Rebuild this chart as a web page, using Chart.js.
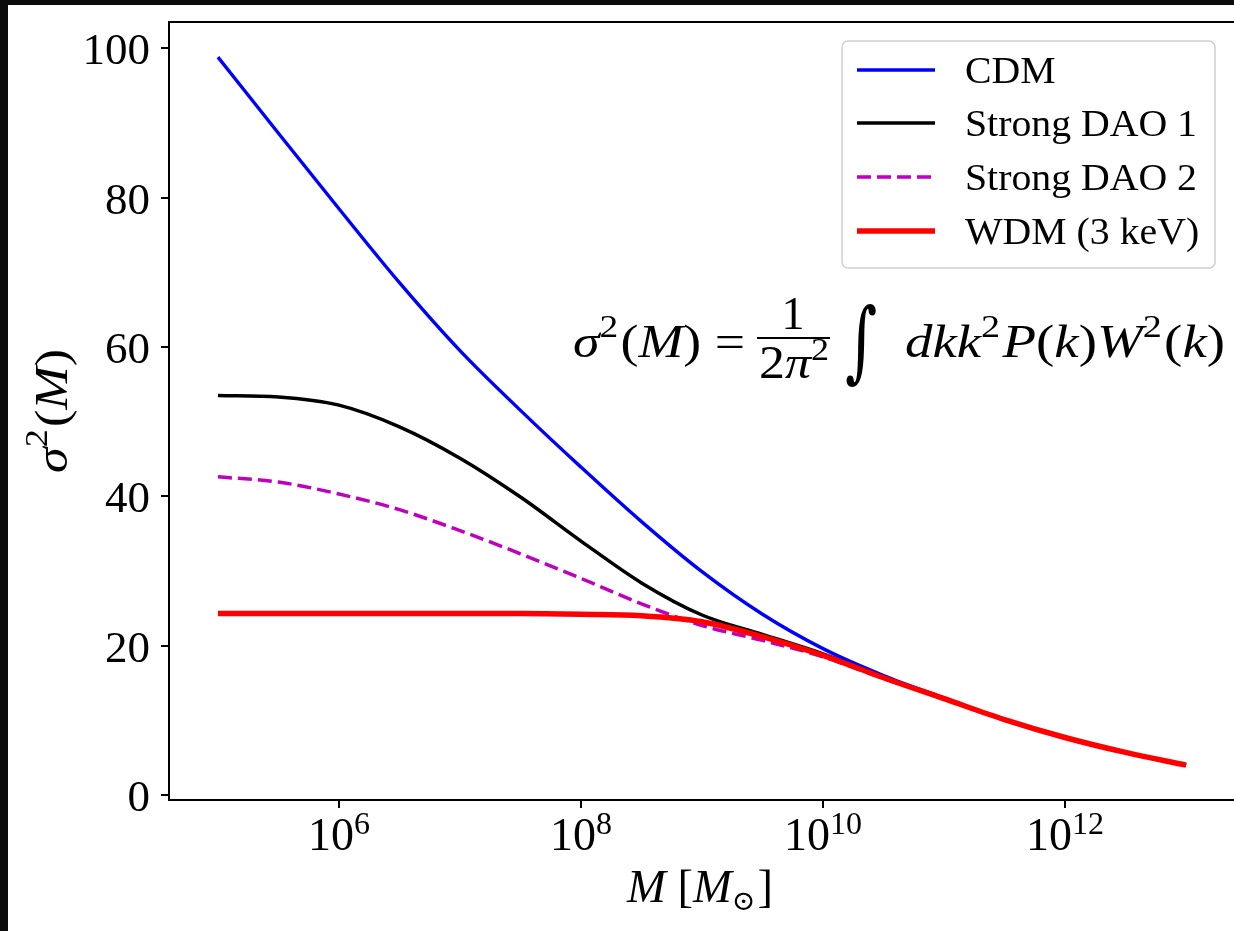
<!DOCTYPE html>
<html>
<head>
<meta charset="utf-8">
<title>sigma^2(M)</title>
<script src="https://cdn.jsdelivr.net/npm/chart.js@4.4.1/dist/chart.umd.min.js"></script>
<style>
html, body { margin: 0; padding: 0; background: #0b0b0b; overflow: hidden; width: 1234px; height: 931px; }
#frame { position: absolute; left: 8px; top: 5px; width: 1240px; height: 926px; background: #fff; }
canvas { display: block; }
</style>
</head>
<body>
<div id="frame"><canvas id="sigmaChart" width="1240" height="926"></canvas></div>
<script>
// halo mass grid (half-decade steps) and sigma^2
const massValues = [1e5, 3.162e5, 1e6, 3.162e6, 1e7, 3.162e7, 1e8, 3.162e8, 1e9,
                    3.162e9, 1e10, 3.162e10, 1e11, 3.162e11, 1e12, 3.162e12, 1e13];
const cdmValues = [98.8, 88.6, 78.5, 68.6, 59.5, 51.5, 43.9, 36.6, 29.9,
                   24.2, 19.6, 16.0, 13.0, 10.1, 7.7, 5.7, 4.0];
const strongDao1Values = [53.5, 53.3, 52.2, 49.3, 45.1, 39.9, 34.0, 28.4, 24.1,
                          21.5, 18.9, 15.8, 12.9, 10.1, 7.7, 5.7, 4.0];
const strongDao2Values = [42.6, 41.9, 40.3, 38.2, 35.4, 32.3, 29.0, 25.6, 22.7,
                          20.7, 18.5, 15.6, 12.9, 10.1, 7.7, 5.7, 4.0];
const wdmValues = [24.3, 24.3, 24.3, 24.3, 24.3, 24.3, 24.2, 24.0, 23.2,
                   21.2, 18.7, 15.7, 12.9, 10.1, 7.7, 5.7, 4.0];

const seriesLabels = ['CDM', 'Strong DAO 1', 'Strong DAO 2', 'WDM (3 keV)'];
const xTickValues = [1e6, 1e8, 1e10, 1e12];
const xTickExponents = ['6', '8', '10', '12'];
const yTickValues = [0, 20, 40, 60, 80, 100];

const SERIF = '"Liberation Serif", "DejaVu Serif", serif';

function font(size, italic, family) {
    return (italic ? 'italic ' : '') + size + 'px ' + (family || SERIF);
}

// a "run" is a piece of text with its own size / italic / vertical shift
function runsWidth(ctx, runs) {
    let w = 0;
    runs.forEach(r => {
        ctx.font = font(r.size || 46, r.it);
        w += ctx.measureText(r.t).width + (r.gap || 0);
    });
    return w;
}

function drawRuns(ctx, runs, x, y) {
    runs.forEach(r => {
        ctx.font = font(r.size || 46, r.it);
        ctx.fillText(r.t, x, y + (r.dy || 0));
        x += ctx.measureText(r.t).width + (r.gap || 0);
    });
}

// draw runs squeezed / stretched horizontally to span x0..x1
function drawFit(ctx, runs, x0, x1, baseline) {
    const w = runsWidth(ctx, runs);
    ctx.save();
    ctx.translate(x0, baseline);
    ctx.scale((x1 - x0) / w, 1);
    drawRuns(ctx, runs, 0, 0);
    ctx.restore();
}

const textPlugin = {
    id: 'textPlugin',
    afterDraw(chart) {
        const ctx = chart.ctx;
        const area = chart.chartArea;
        ctx.save();
        ctx.fillStyle = '#000';
        ctx.textAlign = 'left';
        ctx.textBaseline = 'alphabetic';

        // top spine
        ctx.strokeStyle = '#000';
        ctx.lineWidth = 2;
        ctx.beginPath();
        ctx.moveTo(area.left - 1, area.top);
        ctx.lineTo(area.right + 1, area.top);
        ctx.stroke();

        // y tick labels
        const ys = chart.scales.y;
        ctx.font = font(45, false);
        ctx.textAlign = 'right';
        yTickValues.forEach(v => {
            ctx.fillText(String(v), area.left - 19, ys.getPixelForValue(v) + 16);
        });
        ctx.textAlign = 'left';

        // x tick labels 10^n
        const xs = chart.scales.x;
        xTickValues.forEach((v, i) => {
            const px = xs.getPixelForValue(v);
            const runs = [{t: '10', size: 46}, {t: xTickExponents[i], size: 32, dy: -16}];
            const w = runsWidth(ctx, runs);
            drawRuns(ctx, runs, px - w / 2, 845);
        });

        // axis titles
        drawFit(ctx, [{t: 'M', it: true}, {t: ' ['}, {t: 'M', it: true},
                      {t: '\u2299', size: 28, dy: 8, gap: 2}, {t: ']'}], 619, 765, 897);

        ctx.save();
        ctx.translate(59, 406);
        ctx.rotate(-Math.PI / 2);
        drawFit(ctx, [{t: '\u03c3', it: true}, {t: '2', size: 32, dy: -20, gap: 2},
                      {t: '('}, {t: 'M', it: true}, {t: ')'}], -62, 62, 0);
        ctx.restore();

        // formula
        drawFit(ctx, [{t: '\u03c3', it: true}, {t: '2', size: 32, dy: -20, gap: 2},
                      {t: '('}, {t: 'M', it: true}, {t: ')'}, {t: ' ='}], 565, 737, 352);
        ctx.font = font(46, false);
        ctx.textAlign = 'center';
        ctx.fillText('1', 785, 324);
        ctx.textAlign = 'left';
        ctx.lineWidth = 2;
        ctx.beginPath();
        ctx.moveTo(749, 333);
        ctx.lineTo(822, 333);
        ctx.stroke();
        drawFit(ctx, [{t: '2'}, {t: '\u03c0', it: true}, {t: '2', size: 32, dy: -18}], 751, 821, 373);

        // integral sign fitted to its box
        ctx.font = font(80, false, '"DejaVu Serif"');
        const m = ctx.measureText('\u222b');
        const gw = m.actualBoundingBoxLeft + m.actualBoundingBoxRight;
        const gh = m.actualBoundingBoxAscent + m.actualBoundingBoxDescent;
        ctx.save();
        ctx.translate(838, 299);
        ctx.scale(30 / gw, 84 / gh);
        ctx.fillText('\u222b', m.actualBoundingBoxLeft, m.actualBoundingBoxAscent);
        ctx.restore();

        drawFit(ctx, [{t: 'dkk', it: true}, {t: '2', size: 32, dy: -20, gap: 2},
                      {t: 'P', it: true}, {t: '('}, {t: 'k', it: true}, {t: ')'},
                      {t: 'W', it: true}, {t: '2', size: 32, dy: -20, gap: 2},
                      {t: '('}, {t: 'k', it: true}, {t: ')'}], 897, 1217, 352);

        // legend
        const bx = 834, by = 36, bw = 373, bh = 227;
        ctx.fillStyle = 'rgba(255,255,255,0.8)';
        ctx.strokeStyle = '#cfcfcf';
        ctx.lineWidth = 1.5;
        ctx.beginPath();
        ctx.roundRect(bx, by, bw, bh, 6);
        ctx.fill();
        ctx.stroke();
        const rowY = [65, 118, 172, 226];
        ctx.font = font(38, false);
        const labelScale = 232 / ctx.measureText('Strong DAO 1').width;
        chart.data.datasets.forEach((ds, i) => {
            ctx.strokeStyle = ds.borderColor;
            ctx.lineWidth = ds.borderWidth;
            ctx.setLineDash(ds.borderDash || []);
            ctx.beginPath();
            ctx.moveTo(849, rowY[i]);
            ctx.lineTo(927, rowY[i]);
            ctx.stroke();
            ctx.setLineDash([]);
            ctx.fillStyle = '#000';
            ctx.save();
            ctx.translate(957, rowY[i] + 13);
            ctx.scale(labelScale, 1);
            ctx.font = font(38, false);
            ctx.fillText(ds.label, 0, 0);
            ctx.restore();
        });
        ctx.restore();
    }
};

function makeSeries(values) {
    return massValues.map((m, i) => ({x: m, y: values[i]}));
}

const axisGrid = {
    display: true,
    drawOnChartArea: false,
    drawTicks: true,
    tickLength: 8,
    tickWidth: 2,
    tickColor: '#000',
    color: '#000',
    lineWidth: 2
};

const ctx = document.getElementById('sigmaChart').getContext('2d');
new Chart(ctx, {
    type: 'line',
    data: {
        datasets: [
            {label: seriesLabels[0], data: makeSeries(cdmValues), borderColor: '#0000ff', borderWidth: 3.4, order: 4},
            {label: seriesLabels[1], data: makeSeries(strongDao1Values), borderColor: '#000000', borderWidth: 3.5, order: 3},
            {label: seriesLabels[2], data: makeSeries(strongDao2Values), borderColor: '#bf00bf', borderWidth: 3.5, borderDash: [14, 6], order: 2},
            {label: seriesLabels[3], data: makeSeries(wdmValues), borderColor: '#ff0000', borderWidth: 5.5, order: 1}
        ]
    },
    options: {
        responsive: false,
        animation: false,
        devicePixelRatio: 1,
        layout: {padding: {top: 17, right: 13, left: 0, bottom: 0}},
        elements: {
            point: {radius: 0},
            line: {cubicInterpolationMode: 'monotone', fill: false}
        },
        plugins: {
            legend: {display: false},
            tooltip: {enabled: false}
        },
        scales: {
            x: {
                type: 'logarithmic',
                min: 3.94e4,
                max: 2.54e13,
                afterBuildTicks: scale => { scale.ticks = xTickValues.map(v => ({value: v})); },
                afterFit: scale => { scale.height = 131; },
                grid: axisGrid,
                border: {display: true, color: '#000', width: 2},
                ticks: {autoSkip: false, maxRotation: 0, callback: () => ''}
            },
            y: {
                type: 'linear',
                min: -0.67,
                max: 103.5,
                afterBuildTicks: scale => { scale.ticks = yTickValues.map(v => ({value: v})); },
                afterFit: scale => { scale.width = 161; },
                grid: axisGrid,
                border: {display: true, color: '#000', width: 2},
                ticks: {autoSkip: false, callback: () => ''}
            }
        }
    },
    plugins: [textPlugin]
});
</script>
</body>
</html>
